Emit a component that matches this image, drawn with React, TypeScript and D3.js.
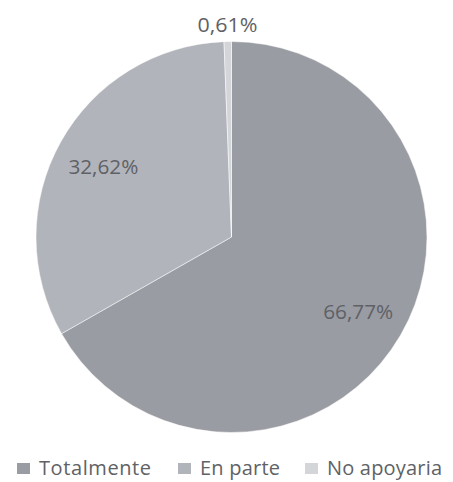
import React from "react";
import * as d3 from "d3";

const categories = ["Totalmente", "En parte", "No apoyaria"];
const values = [66.77, 32.62, 0.61];
const labels = ["66,77%", "32,62%", "0,61%"];
const colors = ["#9a9ca3", "#b2b4bb", "#d4d5d9"];

const W = 453;
const H = 482;

export default function App() {
  const cx = 231.5;
  const cy = 237;
  const R = 195.5;
  const pie = d3.pie<number>().sort(null).value((d) => d);
  const arcs = pie(values);
  const arc = d3.arc<d3.PieArcDatum<number>>().innerRadius(0).outerRadius(R);
  const inLabel = d3.arc<d3.PieArcDatum<number>>().innerRadius(R * 0.75).outerRadius(R * 0.75);
  const outLabel = d3.arc<d3.PieArcDatum<number>>().innerRadius(R + 18).outerRadius(R + 18);

  const legendX = [17, 178, 305];
  const legendTextW = [112, 80, 115];

  return (
    <svg
      width={W}
      height={H}
      style={{ position: "absolute", left: 0, top: 0, background: "#fff" }}
      fontFamily="'Open Sans', sans-serif"
    >
      <g transform={`translate(${cx},${cy})`}>
        {arcs.map((a, i) => (
          <path key={i} d={arc(a) || ""} fill={colors[i]} stroke="#ffffff" strokeWidth={0.5} />
        ))}
        {arcs.map((a, i) => {
          const small = values[i] < 5;
          const [x, y] = small ? outLabel.centroid(a) : inLabel.centroid(a);
          return (
            <text
              key={i}
              x={x}
              y={y}
              textAnchor="middle"
              dominantBaseline="central"
              fontSize={20.5}
              fill="#5f6166"
              textLength={i === 2 ? 60 : 70}
              lengthAdjust="spacingAndGlyphs"
            >
              {labels[i]}
            </text>
          );
        })}
      </g>
      <g>
        {categories.map((c, i) => (
          <g key={c}>
            <rect x={legendX[i]} y={463} width={13} height={11} fill={colors[i]} />
            <text
              x={legendX[i] + 22}
              y={475}
              fontSize={20}
              fill="#606266"
              textLength={legendTextW[i]}
              lengthAdjust="spacing"
            >
              {c}
            </text>
          </g>
        ))}
      </g>
    </svg>
  );
}
